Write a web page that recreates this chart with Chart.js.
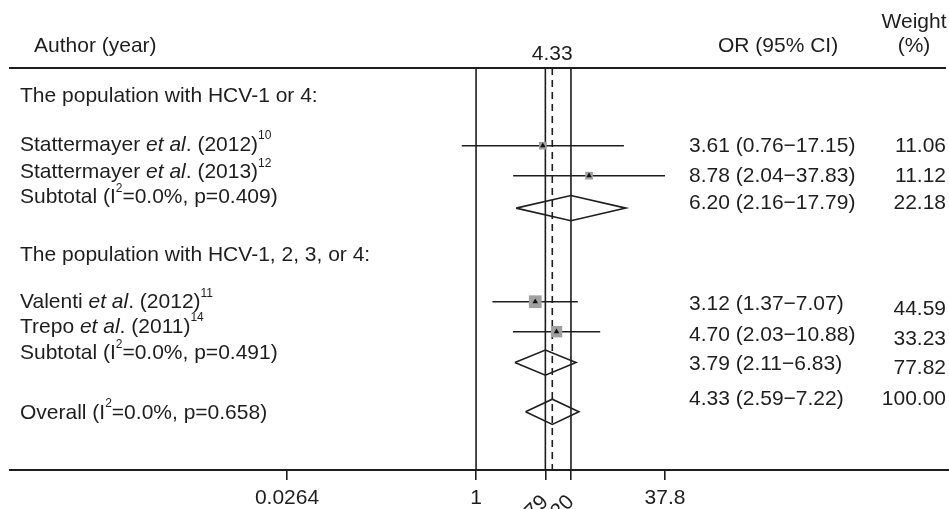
<!DOCTYPE html>
<html>
<head>
<meta charset="utf-8">
<script src="https://cdn.jsdelivr.net/npm/chart.js@4.4.1/dist/chart.umd.min.js"></script>
<style>
  html, body { margin: 0; padding: 0; background: #fff; }
  #wrap { width: 949px; height: 509px; }
</style>
</head>
<body>
<div id="wrap"><canvas id="forest"></canvas></div>
<script>
// rows of the forest plot, top to bottom
const rowLabels = [
  'The population with HCV-1 or 4:',
  'Stattermayer <i>et al</i>. (2012)<sup>10</sup>',
  'Stattermayer <i>et al</i>. (2013)<sup>12</sup>',
  'Subtotal (I<sup>2</sup>=0.0%, p=0.409)',
  'The population with HCV-1, 2, 3, or 4:',
  'Valenti <i>et al</i>. (2012)<sup>11</sup>',
  'Trepo <i>et al</i>. (2011)<sup>14</sup>',
  'Subtotal (I<sup>2</sup>=0.0%, p=0.491)',
  'Overall (I<sup>2</sup>=0.0%, p=0.658)'
];
const rowType = ['group', 'study', 'study', 'subtotal', 'group', 'study', 'study', 'subtotal', 'overall'];
const oddsRatio = [null, 3.61, 8.78, 6.20, null, 3.12, 4.70, 3.79, 4.33];
const ciLow     = [null, 0.76, 2.04, 2.16, null, 1.37, 2.03, 2.11, 2.59];
const ciHigh    = [null, 17.15, 37.83, 17.79, null, 7.07, 10.88, 6.83, 7.22];
const weight    = [null, 11.06, 11.12, 22.18, null, 44.59, 33.23, 77.82, 100.00];
const xTicks = [0.0264, 1, 3.79, 6.20, 37.8];
const rotatedTicks = [3.79, 6.20];

// layout: vertical slot of each row (1 slot = 30px below the header rule)
const markRow  = [null, 2.59, 3.59, 4.67, null, 7.79, 8.79, 9.82, 11.46];
const labelRow = [0.93, 2.57, 3.48, 4.32, 6.25, 7.82, 8.63, 9.51, 11.5];
const orRow    = [null, 2.6, 3.6, 4.5, null, 7.87, 8.9, 9.88, 11.03];
const wtRow    = [null, 2.6, 3.6, 4.5, null, 8.03, 9.03, 10.0, 11.03];
const yMax = 13.4;
const diamondHalf = 0.42;

const FONT = '"Liberation Sans", Arial, Helvetica, sans-serif';
const INK = '#1e1e1e';
const BOX = '#a0a0a0';

const studyIdx = rowType.map((t, i) => t === 'study' ? i : -1).filter(i => i >= 0);
const pooledIdx = rowType.map((t, i) => t === 'subtotal' || t === 'overall' ? i : -1).filter(i => i >= 0);
const subIdx = rowType.map((t, i) => t === 'subtotal' ? i : -1).filter(i => i >= 0);
const overallIdx = rowType.indexOf('overall');

const datasets = [];

// study point markers (triangle over grey weight box)
const studyPoints = studyIdx.map(i => ({ x: oddsRatio[i], y: markRow[i] }));
datasets.push({
  data: studyPoints, pointStyle: 'triangle', pointRadius: 3.2,
  backgroundColor: '#111', borderWidth: 0, order: 0
});
datasets.push({
  data: studyPoints, pointStyle: 'rect',
  pointRadius: studyIdx.map(i => (1.5 * Math.sqrt(weight[i]) + 2.7) / Math.SQRT2),
  backgroundColor: BOX, borderWidth: 0, order: 1
});

// confidence intervals
studyIdx.forEach(i => {
  datasets.push({
    data: [{ x: ciLow[i], y: markRow[i] }, { x: ciHigh[i], y: markRow[i] }],
    showLine: true, borderColor: INK, borderWidth: 1.6, pointRadius: 0, order: 2
  });
});

// pooled diamonds
pooledIdx.forEach(i => {
  const r = markRow[i];
  datasets.push({
    data: [
      { x: ciLow[i], y: r }, { x: oddsRatio[i], y: r - diamondHalf },
      { x: ciHigh[i], y: r }, { x: oddsRatio[i], y: r + diamondHalf },
      { x: ciLow[i], y: r }
    ],
    showLine: true, borderColor: INK, borderWidth: 1.6, pointRadius: 0,
    borderJoinStyle: 'miter', fill: false, order: 2
  });
});

// reference lines: null effect, subtotals, dashed overall
[1, ...subIdx.map(i => oddsRatio[i])].forEach(v => {
  datasets.push({
    data: [{ x: v, y: 0 }, { x: v, y: yMax }],
    showLine: true, borderColor: INK, borderWidth: 1.6, pointRadius: 0, order: 3
  });
});
datasets.push({
  data: [{ x: oddsRatio[overallIdx], y: 0 }, { x: oddsRatio[overallIdx], y: yMax }],
  showLine: true, borderColor: INK, borderWidth: 1.6, borderDash: [7, 5], pointRadius: 0, order: 3
});

function drawRich(ctx, str, x, y) {
  const parts = str.split(/(<\/?(?:i|sup)>)/);
  let italic = false, sup = false;
  for (const p of parts) {
    if (p === '<i>') { italic = true; continue; }
    if (p === '</i>') { italic = false; continue; }
    if (p === '<sup>') { sup = true; continue; }
    if (p === '</sup>') { sup = false; continue; }
    if (!p) continue;
    ctx.font = (italic ? 'italic ' : '') + (sup ? '12px ' : '21px ') + FONT;
    ctx.fillText(p, x, sup ? y - 9 : y);
    x += ctx.measureText(p).width;
  }
}

const forestText = {
  id: 'forestText',
  afterDraw(chart) {
    const { ctx, chartArea, scales: { x, y } } = chart;
    ctx.save();
    ctx.strokeStyle = INK;
    ctx.fillStyle = INK;
    ctx.lineWidth = 2;
    ctx.beginPath();
    ctx.moveTo(9, chartArea.top); ctx.lineTo(946, chartArea.top);
    ctx.moveTo(9, chartArea.bottom); ctx.lineTo(949, chartArea.bottom);
    ctx.stroke();

    ctx.textBaseline = 'middle';
    ctx.font = '21px ' + FONT;
    ctx.textAlign = 'left';
    ctx.fillText('Author (year)', 34, 46);
    ctx.fillText('OR (95% CI)', 718, 46);
    ctx.textAlign = 'center';
    ctx.fillText('Weight', 914, 22);
    ctx.fillText('(%)', 914, 46);
    const ov = oddsRatio[overallIdx];
    ctx.fillText(ov.toFixed(2), x.getPixelForValue(ov), 54);

    rowLabels.forEach((lab, i) => {
      ctx.textAlign = 'left';
      drawRich(ctx, lab, 20, y.getPixelForValue(labelRow[i]));
      if (oddsRatio[i] == null) return;
      ctx.font = '21px ' + FONT;
      const txt = oddsRatio[i].toFixed(2) + ' (' + ciLow[i].toFixed(2) + '\u2212' + ciHigh[i].toFixed(2) + ')';
      ctx.fillText(txt, 689, y.getPixelForValue(orRow[i]));
      ctx.textAlign = 'right';
      ctx.fillText(weight[i].toFixed(2), 946, y.getPixelForValue(wtRow[i]));
    });

    // rotated tick labels
    ctx.font = '21px ' + FONT;
    ctx.textAlign = 'right';
    ctx.textBaseline = 'alphabetic';
    rotatedTicks.forEach(v => {
      ctx.save();
      ctx.translate(x.getPixelForValue(v) + 4, 503);
      ctx.rotate(-Math.PI / 4);
      ctx.fillText(v.toFixed(2), 0, 0);
      ctx.restore();
    });
    ctx.restore();
  }
};

new Chart(document.getElementById('forest'), {
  type: 'scatter',
  data: { datasets },
  options: {
    responsive: true,
    maintainAspectRatio: false,
    animation: false,
    layout: { padding: { left: 287, right: 284, top: 68, bottom: 0 } },
    plugins: { legend: { display: false }, tooltip: { enabled: false } },
    scales: {
      x: {
        type: 'logarithmic',
        min: xTicks[0],
        max: xTicks[xTicks.length - 1],
        afterBuildTicks: s => { s.ticks = xTicks.map(v => ({ value: v })); },
        afterFit: s => { s.height = 39; },
        border: { display: false },
        grid: { drawOnChartArea: false, drawTicks: true, tickLength: 10, color: INK, lineWidth: 1.6 },
        ticks: {
          autoSkip: false, maxRotation: 0, minRotation: 0, padding: 6,
          color: INK, font: { family: FONT, size: 21 },
          callback: v => rotatedTicks.includes(v) ? '' : String(v)
        }
      },
      y: { type: 'linear', display: false, reverse: true, min: 0, max: yMax }
    }
  },
  plugins: [forestText]
});
</script>
</body>
</html>
